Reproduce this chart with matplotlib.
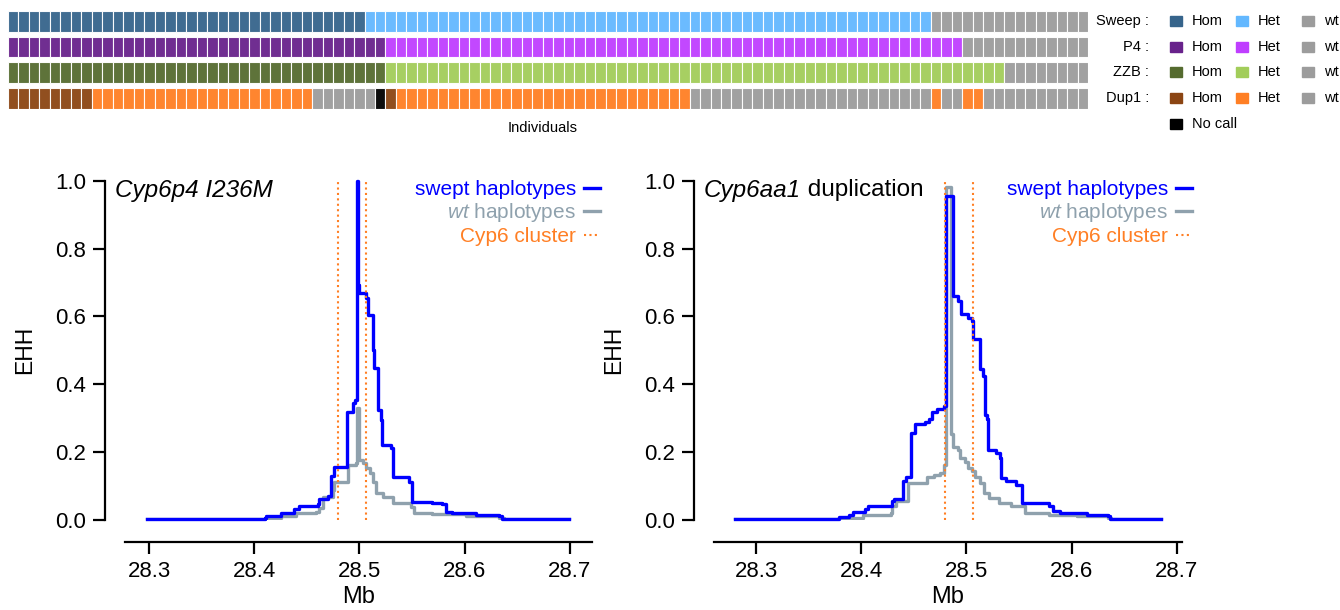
import matplotlib
matplotlib.use('Agg')
import matplotlib.pyplot as plt
from matplotlib.patches import Rectangle
from matplotlib.lines import Line2D

plt.rcParams['font.family'] = ['Liberation Sans', 'DejaVu Sans']
plt.rcParams['mathtext.fontset'] = 'custom'
plt.rcParams['mathtext.rm'] = 'Liberation Sans'
plt.rcParams['mathtext.it'] = 'Liberation Sans:italic'

# genotype calls along the 103 individuals, as runs (genotype, count)
sweep_runs = [('Hom', 34), ('Het', 54), ('wt', 15)]
p4_runs = [('Hom', 36), ('Het', 55), ('wt', 12)]
zzb_runs = [('Hom', 36), ('Het', 59), ('wt', 8)]
dup1_runs = [('Hom', 8), ('Het', 21), ('wt', 6), ('NA', 1), ('Hom', 1), ('Het', 28),
             ('wt', 23), ('Het', 1), ('wt', 2), ('Het', 2), ('wt', 10)]
row_names = ['Sweep', 'P4', 'ZZB', 'Dup1']
hom_cols = ['#36648B', '#68228B', '#556B2F', '#8B4513']
het_cols = ['#63B8FF', '#BF3EFF', '#A2CD5A', '#FF7F24']
wt_col = '#9C9C9C'
na_col = '#000000'

# EHH decay, Cyp6p4 I236M (positions in Mb)
p4_swept_pos = [28.2975, 28.4098, 28.4114, 28.4256, 28.4382, 28.4430, 28.4604, 28.4620, 28.4699,
                28.4731, 28.4762, 28.4879, 28.4936, 28.4961, 28.4974, 28.4983, 28.4993, 28.5062,
                28.5078, 28.5126, 28.5132, 28.5142, 28.5174, 28.5205, 28.5214, 28.5300, 28.5315,
                28.5473, 28.5505, 28.5695, 28.5790, 28.5822, 28.5885, 28.6106, 28.6328, 28.6360,
                28.6992]
p4_swept_ehh = [0.002, 0.005, 0.013, 0.020, 0.031, 0.042, 0.047, 0.061, 0.071,
                0.130, 0.155, 0.319, 0.344, 0.354, 1.000, 0.693, 0.668, 0.653,
                0.604, 0.575, 0.500, 0.447, 0.324, 0.295, 0.221, 0.211, 0.128,
                0.113, 0.054, 0.049, 0.046, 0.025, 0.020, 0.015, 0.012, 0.003,
                0.002]
p4_wt_pos = [28.2975, 28.4098, 28.4256, 28.4398, 28.4588, 28.4620, 28.4652, 28.4747, 28.4762,
             28.4889, 28.4968, 28.4980, 28.4993, 28.5031, 28.5062, 28.5100, 28.5126, 28.5157,
             28.5221, 28.5315, 28.5490, 28.5521, 28.5695, 28.6011, 28.6328, 28.6375, 28.6992]
p4_wt_ehh = [0.002, 0.005, 0.013, 0.020, 0.025, 0.035, 0.069, 0.088, 0.113,
             0.162, 0.167, 0.330, 0.177, 0.167, 0.152, 0.138, 0.113, 0.079,
             0.069, 0.049, 0.039, 0.022, 0.017, 0.012, 0.005, 0.002, 0.002]

# EHH decay, Cyp6aa1 duplication
dup_swept_pos = [28.2802, 28.3786, 28.3885, 28.3917, 28.4032, 28.4065, 28.4295, 28.4311, 28.4393,
                 28.4426, 28.4469, 28.4508, 28.4606, 28.4640, 28.4672, 28.4721, 28.4787, 28.4803,
                 28.4810, 28.4869, 28.4918, 28.4951, 28.5017, 28.5050, 28.5066, 28.5132, 28.5158,
                 28.5181, 28.5194, 28.5204, 28.5286, 28.5322, 28.5329, 28.5378, 28.5476, 28.5525,
                 28.5788, 28.5821, 28.5887, 28.6149, 28.6346, 28.6362, 28.6854]
dup_swept_ehh = [0.002, 0.009, 0.015, 0.023, 0.033, 0.041, 0.055, 0.063, 0.114,
                 0.128, 0.256, 0.283, 0.288, 0.298, 0.317, 0.327, 0.337, 0.915,
                 0.954, 0.660, 0.645, 0.606, 0.596, 0.586, 0.532, 0.444, 0.424,
                 0.308, 0.298, 0.206, 0.196, 0.182, 0.123, 0.116, 0.104, 0.050,
                 0.041, 0.026, 0.021, 0.015, 0.012, 0.004, 0.002]
dup_wt_pos = [28.2802, 28.3786, 28.4019, 28.4282, 28.4295, 28.4328, 28.4442, 28.4623, 28.4688,
              28.4751, 28.4787, 28.4806, 28.4853, 28.4869, 28.4918, 28.4941, 28.4984, 28.5017,
              28.5050, 28.5082, 28.5132, 28.5165, 28.5214, 28.5312, 28.5427, 28.5558, 28.5788,
              28.6050, 28.6346, 28.6379, 28.6854]
dup_wt_ehh = [0.002, 0.005, 0.015, 0.021, 0.041, 0.055, 0.109, 0.128, 0.133,
              0.138, 0.162, 0.980, 0.254, 0.216, 0.206, 0.182, 0.172, 0.152,
              0.143, 0.128, 0.109, 0.080, 0.065, 0.050, 0.041, 0.021, 0.015,
              0.012, 0.007, 0.002, 0.002]

cluster = [28.480, 28.5065]
x_ticks = [28.3, 28.4, 28.5, 28.6, 28.7]
y_ticks = [0.0, 0.2, 0.4, 0.6, 0.8, 1.0]

blue = '#0000FF'
grey = '#8FA1AD'
orange = '#FF7F24'

W, H = 1340, 610
fig = plt.figure(figsize=(W / 100, H / 100), dpi=100)
renderer = fig.canvas.get_renderer()


def px_axes(x0, y0, x1, y1):
    return fig.add_axes([x0 / W, 1 - y1 / H, (x1 - x0) / W, (y1 - y0) / H])


# --- genotype tiles
tax = px_axes(8, 11, 1088, 108.5)
for r, runs in enumerate([sweep_runs, p4_runs, zzb_runs, dup1_runs]):
    cols = []
    for g, n in runs:
        c = {'Hom': hom_cols[r], 'Het': het_cols[r], 'wt': wt_col, 'NA': na_col}[g]
        cols += [c] * n
    tax.bar(range(len(cols)), 0.8, bottom=r - 0.4, width=1, color=cols,
            edgecolor='white', linewidth=0.8, alpha=0.95)
tax.set_xlim(-0.5, 102.5)
tax.set_ylim(3.4, -0.4)
tax.axis('off')
fig.text(543 / W, 1 - 128 / H, 'Individuals', ha='center', va='center', fontsize=10.5)

# legend of the tiles
lax = fig.add_axes([0, 0, 1, 1])
lax.set_xlim(0, W)
lax.set_ylim(H, 0)
lax.axis('off')
row_y = [21, 46.7, 72.4, 98.1]
for r, name in enumerate(row_names):
    y = row_y[r]
    lax.text(1149, y, name + ' :', ha='right', va='center', fontsize=10.5)
    for k, (lab, c) in enumerate([('Hom', hom_cols[r]), ('Het', het_cols[r]), ('wt', wt_col)]):
        x0 = 1170 + k * 66
        lax.add_patch(Rectangle((x0, y - 5), 12, 10, color=c))
        lax.text(x0 + 22, y, lab, ha='left', va='center', fontsize=10.5)
lax.add_patch(Rectangle((1170, 124 - 5), 12, 10, color=na_col))
lax.text(1192, 124, 'No call', ha='left', va='center', fontsize=10.5)


def ehh_panel(box, xlim, swept_pos, swept_ehh, wt_pos, wt_ehh, title_it, title_rest, legend_x):
    ax = px_axes(*box)
    ax.plot(wt_pos, wt_ehh, drawstyle='steps-post', color=grey, lw=2.4)
    ax.plot(swept_pos, swept_ehh, drawstyle='steps-post', color=blue, lw=2.4, clip_on=False)
    for c in cluster:
        ax.axvline(c, color=orange, lw=1.5, ls=(0, (1, 1.6)))
    ax.set_xlim(*xlim)
    ax.set_ylim(0, 1)
    ax.set_xticks(x_ticks)
    ax.set_yticks(y_ticks)
    ax.set_xticklabels([str(t) for t in x_ticks])
    ax.set_yticklabels(['%.1f' % t for t in y_ticks])
    for s in ['top', 'right']:
        ax.spines[s].set_visible(False)
    ax.spines['left'].set_position(('outward', 14.2))
    ax.spines['bottom'].set_position(('outward', 15.6))
    ax.spines['left'].set_bounds(0, 1)
    for s in ['left', 'bottom']:
        ax.spines[s].set_linewidth(1.6)
    ax.tick_params(length=8.6, width=1.6, labelsize=16, pad=5)
    handles = [Line2D([], [], color=blue, lw=2.4),
               Line2D([], [], color=grey, lw=2.4),
               Line2D([], [], color=orange, lw=1.5, ls=(0, (1, 1.6)))]
    labels = ['swept haplotypes', r'$\mathit{wt}$ haplotypes', 'Cyp6 cluster']
    ax.legend(handles, labels, loc='upper right', bbox_to_anchor=(legend_x / W, 1 - 180 / H),
              bbox_transform=fig.transFigure, frameon=False, markerfirst=False,
              handlelength=0.75, handletextpad=0.4, labelspacing=0.12, borderpad=0,
              borderaxespad=0, fontsize=15, labelcolor='linecolor')
    x0, y0, x1, y1 = box
    t = fig.text((x0 - 10) / W, 1 - 190 / H, title_it, ha='left', va='center',
                 fontsize=17.5, fontstyle='italic')
    if title_rest:
        bb = t.get_window_extent(renderer)
        fig.text(bb.x1 / W, 1 - 190 / H, title_rest, ha='left', va='center', fontsize=17.5)
    fig.text((x0 - 100) / W, 1 - 350 / H, 'EHH', ha='center', va='center', rotation=90, fontsize=16.5)
    fig.text((x0 + x1) / 2 / W, 1 - 597 / H, 'Mb', ha='center', va='center', fontsize=17)
    return ax


ehh_panel((125, 180.7, 591.7, 520), (28.277, 28.721), p4_swept_pos, p4_swept_ehh,
          p4_wt_pos, p4_wt_ehh, 'Cyp6p4 I236M', '', 600)
ehh_panel((714, 180.7, 1182, 520), (28.260, 28.705), dup_swept_pos, dup_swept_ehh,
          dup_wt_pos, dup_wt_ehh, 'Cyp6aa1', ' duplication', 1192)

fig.savefig('out.png', dpi=100)
